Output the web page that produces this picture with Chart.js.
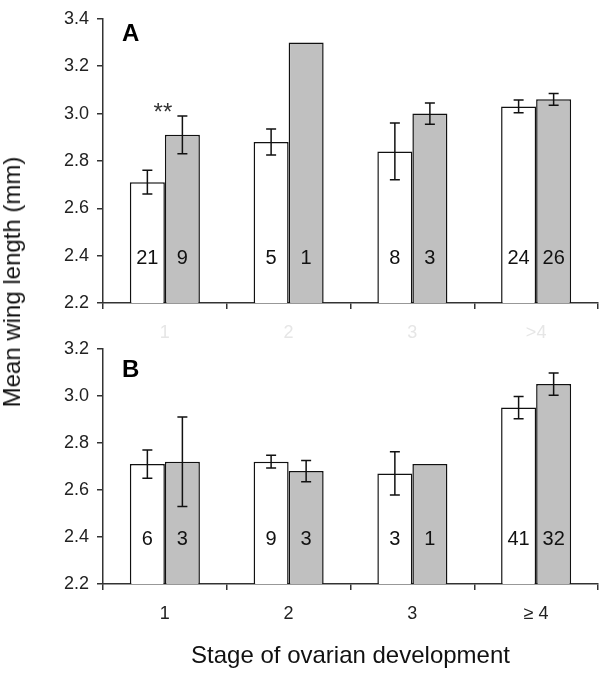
<!DOCTYPE html>
<html>
<head>
<meta charset="utf-8">
<script src="https://cdn.jsdelivr.net/npm/chart.js@4.4.1/dist/chart.umd.min.js"></script>
<style>
  html, body { margin: 0; padding: 0; background: #fff; }
  #wrap { position: relative; width: 600px; height: 673px; overflow: hidden; background: #fff; }
  canvas { position: absolute; left: 0; }
  #ytitle {
    position: absolute; left: 12px; top: 282px;
    transform: translate(-50%, -50%) rotate(-90deg);
    white-space: nowrap; font: 24px "Liberation Sans", Arial, sans-serif; color: #111;
  }
</style>
</head>
<body>
<div id="wrap">
  <div style="position:absolute;left:0;top:0;width:600px;height:345px"><canvas id="cA"></canvas></div>
  <div style="position:absolute;left:0;top:330px;width:600px;height:343px"><canvas id="cB"></canvas></div>
  <div id="ytitle">Mean wing length (mm)</div>
</div>
<script>
// ---- data ----
const stagesA = ['1', '2', '3', '>4'];
const stagesB = ['1', '2', '3', '\u2265 4'];
const yTicksA = [2.2, 2.4, 2.6, 2.8, 3.0, 3.2, 3.4];
const yTicksB = [2.2, 2.4, 2.6, 2.8, 3.0, 3.2];

// Panel A
const meanA_white = [2.71, 2.88, 2.84, 3.03];
const errA_white  = [0.05, 0.055, 0.12, 0.027];
const nA_white    = [21, 5, 8, 24];
const meanA_gray  = [2.91, 3.30, 3.00, 3.06];
const errA_gray   = [0.08, 0, 0.045, 0.025];
const nA_gray     = [9, 1, 3, 26];

// Panel B
const meanB_white = [2.71, 2.72, 2.67, 2.95];
const errB_white  = [0.06, 0.027, 0.092, 0.047];
const nB_white    = [6, 9, 3, 41];
const meanB_gray  = [2.72, 2.68, 2.71, 3.05];
const errB_gray   = [0.19, 0.045, 0, 0.047];
const nB_gray     = [3, 3, 1, 32];

const countLevel = 2.39;   // y value at which sample sizes are printed
const sigLabel = '**';     // significance marker, panel A stage 1
const sigLevel = 3.03;

const FONT = '"Liberation Sans", Arial, sans-serif';
const AXIS = '#333';

const overlay = {
  id: 'overlay',
  afterDatasetsDraw(chart, args, opts) {
    const ctx = chart.ctx;
    const y = chart.scales.y;
    ctx.save();
    chart.data.datasets.forEach((ds, di) => {
      const meta = chart.getDatasetMeta(di);
      const errs = opts.errors[di];
      const ns = opts.counts[di];
      meta.data.forEach((bar, i) => {
        const v = ds.data[i];
        const e = errs[i];
        if (e > 0) {
          const yt = y.getPixelForValue(v + e), yb = y.getPixelForValue(v - e);
          ctx.strokeStyle = '#111'; ctx.lineWidth = 1.5;
          ctx.beginPath();
          ctx.moveTo(bar.x, yt); ctx.lineTo(bar.x, yb);
          ctx.moveTo(bar.x - 5, yt); ctx.lineTo(bar.x + 5, yt);
          ctx.moveTo(bar.x - 5, yb); ctx.lineTo(bar.x + 5, yb);
          ctx.stroke();
        }
        ctx.fillStyle = '#111';
        ctx.font = '20px ' + FONT;
        ctx.textAlign = 'center';
        ctx.textBaseline = 'middle';
        ctx.fillText(String(ns[i]), bar.x, y.getPixelForValue(countLevel));
      });
    });
    if (opts.sig) {
      const xs = chart.scales.x;
      ctx.font = '24px ' + FONT;
      ctx.fillStyle = '#333';
      ctx.textAlign = 'center';
      ctx.textBaseline = 'alphabetic';
      ctx.fillText(opts.sig.text, xs.getPixelForValue(opts.sig.index) - 2, y.getPixelForValue(opts.sig.level) + 0.57 * 24);
    }
    ctx.font = 'bold 24px ' + FONT;
    ctx.fillStyle = '#000';
    ctx.textAlign = 'left';
    ctx.textBaseline = 'alphabetic';
    ctx.fillText(opts.letter, chart.chartArea.left + 19, chart.chartArea.top + opts.letterOffset);
    ctx.restore();
  }
};

function makeChart(id, labels, white, gray, errs, counts, yMax, tickVals, xTickColor, showTitle, letter, letterOffset, sig) {
  return new Chart(document.getElementById(id), {
    type: 'bar',
    data: {
      labels: labels,
      datasets: [
        { data: white, backgroundColor: '#ffffff', borderColor: '#111', borderWidth: 1.5 },
        { data: gray, backgroundColor: '#c0c0c0', borderColor: '#111', borderWidth: 1.5 }
      ]
    },
    options: {
      responsive: true, maintainAspectRatio: false, animation: false,
      layout: { padding: { top: 12, right: 2, left: 0, bottom: 0 } },
      datasets: { bar: { barPercentage: 1, categoryPercentage: 0.566 } },
      plugins: {
        legend: { display: false }, tooltip: { enabled: false },
        overlay: { errors: errs, counts: counts, letter: letter, letterOffset: letterOffset, sig: sig }
      },
      scales: {
        y: {
          min: 2.2, max: yMax,
          afterBuildTicks: (s) => { s.ticks = tickVals.map(v => ({ value: v })); },
          afterFit: (s) => { s.width = 103; },
          ticks: { callback: (v) => Number(v).toFixed(1), font: { size: 18, family: FONT }, color: '#222', padding: 8 },
          grid: { drawOnChartArea: false, drawTicks: true, tickLength: 6, color: AXIS, lineWidth: 1.5 },
          border: { color: AXIS, width: 1.5 }
        },
        x: {
          afterFit: (s) => { s.height = showTitle ? 89 : 42; },
          ticks: { font: { size: 18, family: FONT }, color: xTickColor, padding: 13 },
          grid: { offset: true, drawOnChartArea: false, drawTicks: true, tickLength: 6, color: AXIS, lineWidth: 1.5 },
          border: { color: AXIS, width: 1.5 },
          title: { display: showTitle, text: 'Stage of ovarian development', font: { size: 24, family: FONT }, color: '#111', padding: { top: 0, bottom: 2 } }
        }
      }
    },
    plugins: [overlay]
  });
}

makeChart('cA', stagesA, meanA_white, meanA_gray, [errA_white, errA_gray], [nA_white, nA_gray],
  3.4, yTicksA, '#e6e6e6', false, 'A', 22, { text: sigLabel, index: 0, level: sigLevel });
makeChart('cB', stagesB, meanB_white, meanB_gray, [errB_white, errB_gray], [nB_white, nB_gray],
  3.2, yTicksB, '#222', true, 'B', 28, null);
</script>
</body>
</html>
